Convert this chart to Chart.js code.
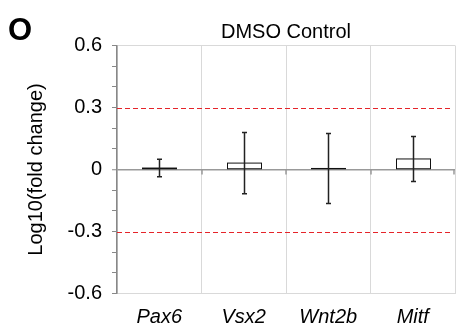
<!DOCTYPE html>
<html>
<head>
<meta charset="utf-8">
<script src="https://cdn.jsdelivr.net/npm/chart.js@4"></script>
<style>
  html, body { margin: 0; padding: 0; background: #fff; }
  #wrap { width: 456px; height: 328px; }
</style>
</head>
<body>
<div id="wrap"><canvas id="foldChart" width="456" height="328"></canvas></div>
<script>
// Gene expression, log10 fold change vs. control
const genes = ['Pax6', 'Vsx2', 'Wnt2b', 'Mitf'];
const means = [0.007, 0.031, 0.005, 0.051];
const errors = [0.042, 0.148, 0.169, 0.109];
const thresholds = [0.3, -0.3];
const yLabels = [0.6, 0.3, 0, -0.3, -0.6];

const FONT = 'Liberation Sans, Arial, sans-serif';

// Bar outlines (stroked on the edge so thin bars stay visible) and error bars
const errorBars = {
    id: 'errorBars',
    afterDatasetsDraw(chart) {
        const ctx = chart.ctx;
        const y = chart.scales.y;
        const meta = chart.getDatasetMeta(0);
        ctx.save();
        ctx.strokeStyle = '#111';
        ctx.lineWidth = 1;
        meta.data.forEach(bar => {
            const l = Math.round(bar.x - bar.width / 2) + 0.5;
            const r = Math.round(bar.x + bar.width / 2) + 0.5;
            ctx.strokeRect(l, bar.y, r - l, bar.base - bar.y);
        });
        ctx.strokeStyle = '#222';
        ctx.lineWidth = 1.5;
        meta.data.forEach((bar, i) => {
            const x = Math.round(bar.x) + 0.5;
            const top = y.getPixelForValue(means[i] + errors[i]);
            const bot = y.getPixelForValue(means[i] - errors[i]);
            ctx.beginPath();
            ctx.moveTo(x, top);
            ctx.lineTo(x, bot);
            ctx.moveTo(x - 2.5, top);
            ctx.lineTo(x + 2.5, top);
            ctx.moveTo(x - 2.5, bot);
            ctx.lineTo(x + 2.5, bot);
            ctx.stroke();
        });
        ctx.restore();
    }
};

// Red dashed threshold lines, ticks on the zero line, panel letter
const extras = {
    id: 'extras',
    beforeDatasetsDraw(chart) {
        const ctx = chart.ctx;
        const {left, right} = chart.chartArea;
        const y = chart.scales.y;
        const x = chart.scales.x;
        ctx.save();
        ctx.strokeStyle = '#e5242a';
        ctx.lineWidth = 1.2;
        ctx.setLineDash([5, 3]);
        thresholds.forEach(t => {
            const py = Math.round(y.getPixelForValue(t)) + 0.5;
            ctx.beginPath();
            ctx.moveTo(left, py);
            ctx.lineTo(right - 3, py);
            ctx.stroke();
        });
        ctx.setLineDash([]);
        // small ticks under the zero line between categories
        const zy = y.getPixelForValue(0);
        const step = x.getPixelForValue(1) - x.getPixelForValue(0);
        ctx.strokeStyle = '#999';
        ctx.lineWidth = 1.5;
        for (let i = 1; i <= genes.length; i++) {
            const bx = Math.min(Math.round(x.getPixelForValue(i - 1) + step / 2), right - 1);
            ctx.beginPath();
            ctx.moveTo(bx, zy);
            ctx.lineTo(bx, zy + 5);
            ctx.stroke();
        }
        ctx.restore();
    },
    afterDraw(chart) {
        const ctx = chart.ctx;
        ctx.save();
        ctx.fillStyle = '#000';
        ctx.font = 'bold 31px ' + FONT;
        ctx.textBaseline = 'alphabetic';
        ctx.fillText('O', 8, 39.5);
        ctx.restore();
    }
};

new Chart(document.getElementById('foldChart'), {
    type: 'bar',
    data: {
        labels: genes,
        datasets: [{
            data: means,
            backgroundColor: '#fff',
            borderWidth: 0,
            barPercentage: 0.4,
            categoryPercentage: 1
        }]
    },
    options: {
        responsive: false,
        animation: false,
        layout: { padding: { left: 0, right: 1, top: 0, bottom: 0 } },
        plugins: {
            legend: { display: false },
            tooltip: { enabled: false },
            title: {
                display: true,
                text: 'DMSO Control',
                fullSize: false,
                color: '#000',
                font: { family: FONT, size: 20, weight: 'normal' },
                padding: { top: 20, bottom: 1.5 }
            }
        },
        scales: {
            x: {
                grid: {
                    offset: true,
                    color: '#d9d9d9',
                    lineWidth: 1,
                    drawTicks: false
                },
                border: { display: false },
                ticks: {
                    color: '#000',
                    padding: 12,
                    font: { family: FONT, size: 20, style: 'italic' }
                },
                afterFit(scale) { scale.height = 34.5; }
            },
            y: {
                min: -0.6,
                max: 0.6,
                ticks: {
                    stepSize: 0.1,
                    autoSkip: false,
                    color: '#000',
                    padding: 10,
                    font: { family: FONT, size: 20 },
                    callback(v) {
                        const r = Math.round(v * 10) / 10;
                        return yLabels.includes(r) ? (r === 0 ? '0' : r.toFixed(1)) : '';
                    }
                },
                grid: {
                    color(c) {
                        const r = Math.round(c.tick.value * 10) / 10;
                        if (r === 0) return '#999';
                        if (Math.abs(r) === 0.6) return '#d9d9d9';
                        return 'rgba(0,0,0,0)';
                    },
                    lineWidth(c) {
                        return Math.round(c.tick.value * 10) === 0 ? 1.5 : 1;
                    },
                    tickColor: '#888',
                    tickLength: 5,
                    tickWidth: 1
                },
                border: { display: true, color: '#888', width: 1.5 },
                title: {
                    display: true,
                    text: 'Log10(fold change)',
                    color: '#000',
                    font: { family: FONT, size: 20 },
                    padding: { top: 24, bottom: 0 }
                },
                afterFit(scale) { scale.width = 117; }
            }
        }
    },
    plugins: [extras, errorBars]
});
</script>
</body>
</html>
